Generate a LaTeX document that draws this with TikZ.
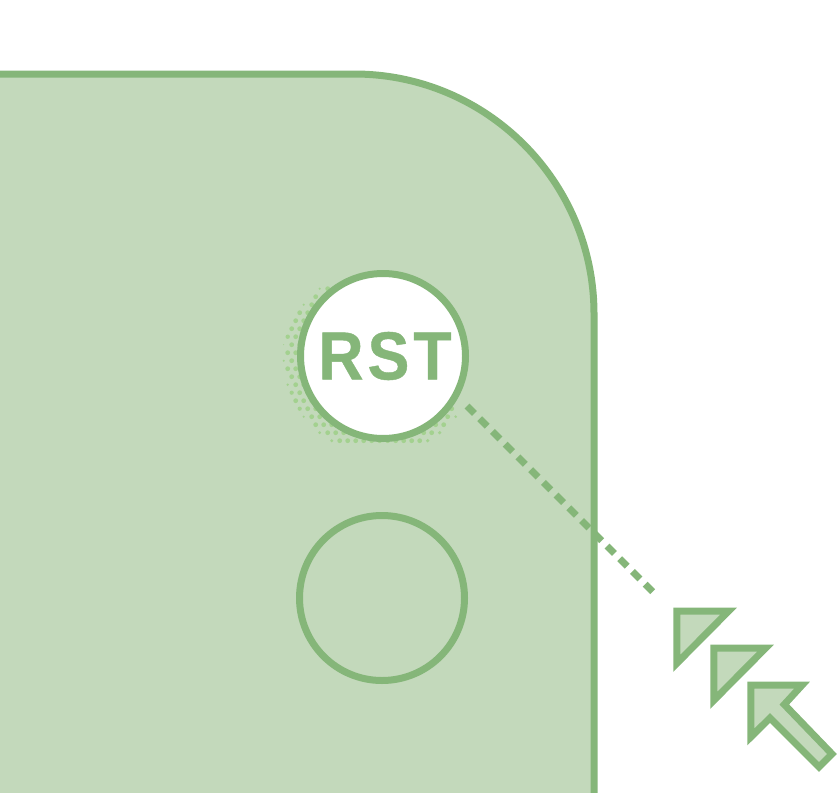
\documentclass[tikz,border=0pt]{standalone}
\usepackage{fontspec}
\setmainfont{Liberation Sans}
\newfontfamily\labelfont[LetterSpace=6,FakeStretch=0.92,BoldFeatures={FakeBold=0.6}]{Liberation Sans}
\definecolor{panelfill}{HTML}{C3D9BB}
\definecolor{panelline}{HTML}{85B679}
\definecolor{halftone}{HTML}{A3D18F}

\begin{document}
\begin{tikzpicture}
	  [x=1pt, y=-1pt,
	  %
	  panel/.style={draw=panelline, fill=panelfill, line width=7pt},
	  %
	  hole/.style={circle, draw=panelline, line width=7pt, minimum size=165pt, inner sep=0pt},
	  %
	  chevron/.style={draw=panelline, fill=panelfill, line width=7pt, miter limit=10},
	  %
	  customdash/.style={draw=panelline, line width=7pt, dash pattern=on 10.5pt off 7.5pt}]

	    \useasboundingbox (0,0) rectangle (837,792);

	    \draw [panel] (-20,74) -- (354,74) .. controls (486.6,74) and (594,181.4) .. (594,314) -- (594,812) -- (-20,812) -- cycle;

% 	    halftone shadow
	    \foreach \row in {-11,...,10} {
	      \foreach \col in {-8,...,18} {
	        \pgfmathsetmacro{\dotx}{291.7+4*\row+8*\col}
	        \pgfmathsetmacro{\doty}{376.7+8*\row}
	        \pgfmathsetmacro{\dotr}{min(2.4,(98-veclen(\dotx-380,\doty-358))/1.5,(\dotx+\doty-606)/2,445-\doty)}
	        \ifdim \dotr pt>0.5pt
	          \fill [halftone] (\dotx,\doty) circle [radius=\dotr pt];
	        \fi
	      }
	    }

	    \node [hole, fill=white, font=\fontsize{68}{68}\labelfont\bfseries, text=panelline] (rst) at (383,356) {\hspace*{4pt}RST};
	    \node [hole] (lowerhole) at (382,598) {};

	    \coordinate (dashstart) at (467,406);
	    \coordinate (dashend) at (655,594);
	    \draw [customdash] (dashstart) -- (dashend);

	    \draw [chevron] (676.8,611.2) -- (728.5,611.2) -- (676.8,663.3) -- cycle;
	    \draw [chevron] (713.8,648.2) -- (765.5,648.2) -- (713.8,700.3) -- cycle;
	    \draw [chevron] (750.8,685.2) -- (802,685.2) -- (784.3,704.5) -- (832,754) -- (819,767) -- (770,718) -- (750.8,737) -- cycle;
	  \end{tikzpicture}
\end{document}
